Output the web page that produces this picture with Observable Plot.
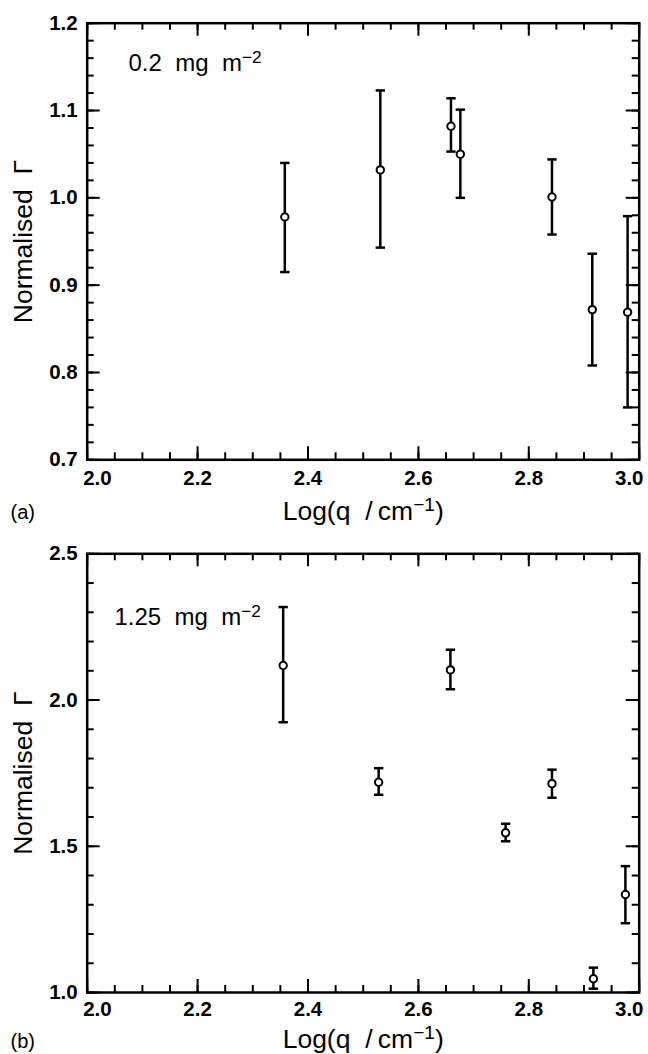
<!DOCTYPE html>
<html>
<head>
<meta charset="utf-8">
<script src="https://cdn.jsdelivr.net/npm/d3@7"></script>
<script src="https://cdn.jsdelivr.net/npm/@observablehq/plot@0.6"></script>
<style>
  html, body { margin: 0; padding: 0; background: #fff; }
  #chart { width: 648px; height: 1054px; }
  #chart svg { display: block; }
  svg text, svg tspan { white-space: pre; }
</style>
</head>
<body>
<div id="chart"></div>
<script>
// ---- Panel (a): 0.2 mg m^-2 ----
const logQ_a    = [2.358, 2.531, 2.659, 2.676, 2.842, 2.915, 2.979];
const gamma_a   = [0.978, 1.032, 1.082, 1.050, 1.001, 0.872, 0.869];
const gammaLo_a = [0.915, 0.943, 1.053, 1.000, 0.958, 0.808, 0.760];
const gammaHi_a = [1.040, 1.123, 1.114, 1.101, 1.044, 0.936, 0.979];

// ---- Panel (b): 1.25 mg m^-2 ----
const logQ_b    = [2.355, 2.528, 2.658, 2.758, 2.842, 2.917, 2.975];
const gamma_b   = [2.118, 1.719, 2.103, 1.546, 1.714, 1.047, 1.335];
const gammaLo_b = [1.924, 1.676, 2.037, 1.517, 1.666, 1.013, 1.237];
const gammaHi_b = [2.318, 1.767, 2.172, 1.577, 1.762, 1.085, 1.432];

// ---- Tick labels ----
const xTickLabels   = [2.0, 2.2, 2.4, 2.6, 2.8, 3.0];
const yTickLabels_a = [0.7, 0.8, 0.9, 1.0, 1.1, 1.2];
const yTickLabels_b = [1.0, 1.5, 2.0, 2.5];

const xTitle = "Log(q  /\u2009cm^{−1})";
const yTitle = "Normalised  Γ";

const FONT = "'Liberation Sans', Arial, Helvetica, sans-serif";
const fmt = d3.format(".1f");

const capSymbol = {
  draw(ctx, size) {
    const w = Math.sqrt(size / Math.PI);
    ctx.moveTo(-w, 0);
    ctx.lineTo(w, 0);
  }
};

function superscripts(svg) {
  d3.select(svg).selectAll("text").each(function () {
    const s = this.textContent;
    const m = s.match(/^(.*)\^\{(.*?)\}(.*)$/);
    if (!m) return;
    const fs = parseFloat(this.getAttribute("font-size") || this.parentNode.getAttribute("font-size") || 20);
    const shift = fs * 0.36;
    const t = d3.select(this);
    t.text(null);
    t.append("tspan").text(m[1]);
    t.append("tspan").attr("dy", -shift).attr("font-size", fs * 0.72).text(m[2]);
    if (m[3]) t.append("tspan").attr("dy", shift).text(m[3]);
  });
}

function panel(o) {
  const W = 648, ML = 86.7, MR = 9.3;
  const H = o.height, MT = o.marginTop, MB = o.marginBottom;
  const plotH = H - MT - MB, plotW = W - ML - MR;
  const MAJ = 13, MIN = 7;
  const rows = o.x.map((v, i) => ({x: v, y: o.y[i], lo: o.lo[i], hi: o.hi[i]}));
  const xMinor = d3.range(0, 21).map(i => 2 + i * 0.05);
  const [y0, y1] = o.yDomain;
  const nMinor = Math.round((y1 - y0) / o.yMinorStep);
  const yMinor = d3.range(0, nMinor + 1).map(i => y0 + i * o.yMinorStep);
  const tick = {stroke: "black", strokeWidth: 2};
  const lab = {fontSize: 20.5, fontWeight: "bold", fill: "black", lineAnchor: "middle"};

  const svg = Plot.plot({
    width: W, height: H,
    marginLeft: ML, marginRight: MR, marginTop: MT, marginBottom: MB,
    x: {domain: [2, 3], axis: null},
    y: {domain: o.yDomain, axis: null},
    style: {fontFamily: FONT, background: "white", color: "black", overflow: "visible"},
    marks: [
      // inward ticks: bottom / top
      Plot.ruleX(xMinor, {x: d => d, insetTop: plotH - MIN, ...tick}),
      Plot.ruleX(xMinor, {x: d => d, insetBottom: plotH - MIN, ...tick}),
      Plot.ruleX(xTickLabels, {x: d => d, insetTop: plotH - MAJ, ...tick}),
      Plot.ruleX(xTickLabels, {x: d => d, insetBottom: plotH - MAJ, ...tick}),
      // inward ticks: left / right
      Plot.ruleY(yMinor, {y: d => d, insetRight: plotW - MIN, ...tick}),
      Plot.ruleY(yMinor, {y: d => d, insetLeft: plotW - MIN, ...tick}),
      Plot.ruleY(o.yMajor, {y: d => d, insetRight: plotW - MAJ, ...tick}),
      Plot.ruleY(o.yMajor, {y: d => d, insetLeft: plotW - MAJ, ...tick}),
      Plot.frame({stroke: "black", strokeWidth: 2.5}),
      // error bars
      Plot.ruleX(rows, {x: "x", y1: "lo", y2: "hi", stroke: "black", strokeWidth: 2.5}),
      Plot.dot(rows, {x: "x", y: "lo", symbol: capSymbol, r: 4.7, fill: "none", stroke: "black", strokeWidth: 2.5}),
      Plot.dot(rows, {x: "x", y: "hi", symbol: capSymbol, r: 4.7, fill: "none", stroke: "black", strokeWidth: 2.5}),
      Plot.dot(rows, {x: "x", y: "y", r: 3.7, fill: "white", stroke: "black", strokeWidth: 2}),
      // tick labels
      Plot.text(xTickLabels.slice(1, -1), {x: d => d, text: d => fmt(d), frameAnchor: "bottom", dy: o.tickDy, ...lab}),
      Plot.text(xTickLabels.slice(0, 1), {x: d => d, text: d => fmt(d), frameAnchor: "bottom", dy: o.tickDy, dx: -4, textAnchor: "start", ...lab}),
      Plot.text(xTickLabels.slice(-1), {x: d => d, text: d => fmt(d), frameAnchor: "bottom", dy: o.tickDy, dx: 4.3, textAnchor: "end", ...lab}),
      Plot.text(o.yMajor, {y: d => d, text: d => fmt(d), frameAnchor: "left", dx: -9.5, textAnchor: "end", ...lab}),
      // axis titles
      Plot.text([xTitle], {text: d => d, frameAnchor: "bottom", dy: o.titleDy, lineAnchor: "middle", fontSize: 26.5, fill: "black"}),
      Plot.text([yTitle], {text: d => d, frameAnchor: "left", dx: -63.7, rotate: -90, textAnchor: "middle", lineAnchor: "middle", fontSize: 26.5, fill: "black"}),
      // panel letter
      Plot.text([o.letter], {text: d => d, frameAnchor: "bottom-left", dx: 10 - ML, dy: o.letterDy, textAnchor: "start", lineAnchor: "middle", fontSize: 20, fill: "black"}),
      // annotation
      Plot.text([o.note], {text: d => d, frameAnchor: "top-left", dx: o.noteDx, dy: o.noteDy, textAnchor: "start", lineAnchor: "middle", fontSize: 24, fill: "black"})
    ]
  });
  superscripts(svg);
  return svg;
}

const chart = document.getElementById("chart");
chart.appendChild(panel({
  x: logQ_a, y: gamma_a, lo: gammaLo_a, hi: gammaHi_a,
  yDomain: [0.7, 1.2], yMajor: yTickLabels_a, yMinorStep: 0.02,
  note: "0.2  mg  m^{−2}", letter: "(a)",
  height: 530, marginTop: 22.7, marginBottom: 70.7,
  tickDy: 19, titleDy: 52, letterDy: 53, noteDx: 41.3, noteDy: 40.5
}));
chart.appendChild(panel({
  x: logQ_b, y: gamma_b, lo: gammaLo_b, hi: gammaHi_b,
  yDomain: [1.0, 2.5], yMajor: yTickLabels_b, yMinorStep: 0.1,
  note: "1.25  mg  m^{−2}", letter: "(b)",
  height: 524, marginTop: 23.3, marginBottom: 62,
  tickDy: 17, titleDy: 47.5, letterDy: 49, noteDx: 27.3, noteDy: 63.7
}));
</script>
</body>
</html>
